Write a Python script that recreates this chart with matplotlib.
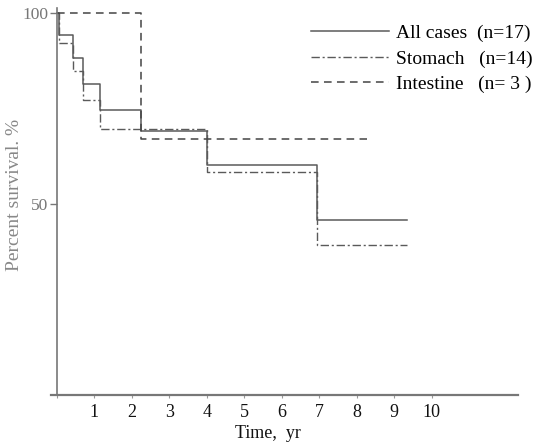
import matplotlib.pyplot as plt

plt.rcParams['font.family'] = ['Liberation Serif', 'DejaVu Serif']

# Kaplan-Meier steps (time in years, survival in %)
all_t = [0, 0.05, 0.43, 0.69, 1.15, 2.24, 4.0, 6.95, 9.33]
all_s = [100, 94.1, 88.2, 81.3, 74.6, 68.9, 60.0, 45.7, 45.7]
stom_t = [0, 0.05, 0.43, 0.69, 1.15, 4.0, 6.95, 9.33]
stom_s = [100, 92.1, 84.7, 77.1, 69.5, 58.2, 39.2, 39.2]
int_t = [0, 2.24, 8.28]
int_s = [100, 66.9, 66.9]

labels = ['All cases  (n=17)', 'Stomach   (n=14)', 'Intestine   (n= 3 )']
xticks = [1, 2, 3, 4, 5, 6, 7, 8, 9, 10]
yticks = [50, 100]

line_col = '#5a5a5a'

fig = plt.figure(figsize=(5.33, 4.46), dpi=100)
ax = fig.add_axes([51 / 533, 51.5 / 446, 467 / 533, 386.5 / 446])

h1, = ax.plot(all_t, all_s, drawstyle='steps-post', color=line_col, lw=1.1, ls='-')
h2, = ax.plot(stom_t, stom_s, drawstyle='steps-post', color=line_col, lw=1.0, ls=(0, (6, 2, 1.5, 2)))
h3, = ax.plot(int_t, int_s, drawstyle='steps-post', color='#444444', lw=1.1, ls=(0, (5, 3.5)))

ax.set_xlim(-0.15, 12.3)
ax.set_ylim(0, 101.2)

for s in ['top', 'right']:
    ax.spines[s].set_visible(False)
ax.spines['left'].set_position(('data', 0))
ax.spines['left'].set_color('#777777')
ax.spines['bottom'].set_color('#777777')
ax.spines['bottom'].set_linewidth(1.6)
ax.spines['left'].set_linewidth(1.2)

ax.set_xticks([0] + xticks)
ax.set_xticklabels([''] + [str(v) for v in xticks], fontsize=13, color='#111111')
ax.set_yticks(yticks)
ax.set_yticklabels([str(v) for v in yticks], fontsize=12.5, color='#777777')
ax.tick_params(axis='x', direction='out', length=2, width=0.8, color='#999999', pad=5)
ax.tick_params(axis='y', direction='out', length=5, width=1.0, color='#777777', pad=1)

fig.text(268 / 533, 1 - 434 / 446, 'Time,  yr', fontsize=13, ha='center', va='center', color='#111111')
fig.text(15 / 533, 1 - 195 / 446, 'Percent survival. %', fontsize=14, rotation=90,
         ha='center', va='center', color='#888888')

ax.legend([h1, h2, h3], labels, loc='upper left', bbox_to_anchor=(311 / 533, 1 - 24 / 446),
          bbox_transform=fig.transFigure, frameon=False, fontsize=14, handlelength=4.0,
          handletextpad=0.35, labelspacing=0.42, borderpad=0, borderaxespad=0)

fig.savefig('out.png', dpi=100)
